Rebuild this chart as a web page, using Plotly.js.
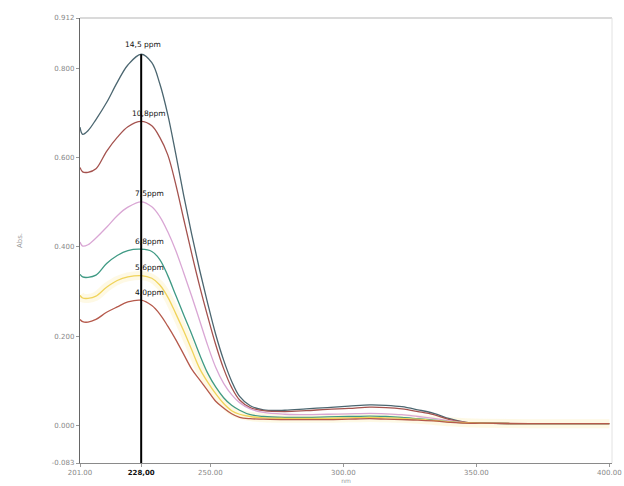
<!DOCTYPE html>
<html>
<head>
<meta charset="utf-8">
<script src="https://cdn.plot.ly/plotly-3.0.1.min.js"></script>
<style>html,body{margin:0;padding:0;background:#fff;}#chart{width:624px;height:486px;}</style>
</head>
<body>
<div id="chart"></div>
<script>
// Wavelengths (nm)
const wavelengths = [201, 202, 204, 207, 211, 215, 219, 224, 228, 231, 234, 237, 240, 243, 246, 249, 252, 255, 258, 261, 265, 270, 278, 286, 294, 302, 310, 316, 322, 328, 334, 340, 346, 352, 370, 385, 400];

// Absorbance series
const abs_14_5 = [0.668, 0.652, 0.660, 0.685, 0.723, 0.768, 0.807, 0.831, 0.812, 0.765, 0.696, 0.608, 0.515, 0.428, 0.348, 0.274, 0.205, 0.147, 0.100, 0.066, 0.045, 0.036, 0.035, 0.038, 0.041, 0.044, 0.047, 0.046, 0.043, 0.036, 0.028, 0.016, 0.008, 0.006, 0.005, 0.005, 0.005];
const abs_10_8 = [0.578, 0.568, 0.567, 0.575, 0.614, 0.645, 0.669, 0.681, 0.671, 0.645, 0.606, 0.540, 0.462, 0.385, 0.312, 0.245, 0.182, 0.128, 0.086, 0.058, 0.041, 0.034, 0.032, 0.034, 0.037, 0.039, 0.042, 0.041, 0.038, 0.032, 0.025, 0.014, 0.008, 0.006, 0.005, 0.005, 0.005];
const abs_7_5 = [0.411, 0.402, 0.405, 0.420, 0.444, 0.470, 0.489, 0.501, 0.490, 0.468, 0.434, 0.392, 0.342, 0.290, 0.235, 0.180, 0.131, 0.095, 0.070, 0.052, 0.038, 0.030, 0.026, 0.025, 0.026, 0.027, 0.028, 0.027, 0.025, 0.021, 0.017, 0.011, 0.007, 0.006, 0.005, 0.005, 0.005];
const abs_6_8 = [0.339, 0.333, 0.332, 0.337, 0.363, 0.381, 0.392, 0.395, 0.390, 0.372, 0.336, 0.292, 0.248, 0.205, 0.159, 0.118, 0.087, 0.063, 0.046, 0.035, 0.025, 0.021, 0.019, 0.019, 0.020, 0.021, 0.022, 0.021, 0.019, 0.016, 0.013, 0.009, 0.007, 0.006, 0.005, 0.005, 0.005];
const abs_5_6 = [0.292, 0.286, 0.285, 0.290, 0.310, 0.325, 0.333, 0.336, 0.330, 0.315, 0.288, 0.251, 0.212, 0.170, 0.128, 0.098, 0.072, 0.050, 0.034, 0.026, 0.021, 0.018, 0.017, 0.017, 0.017, 0.018, 0.019, 0.018, 0.017, 0.015, 0.012, 0.009, 0.007, 0.006, 0.005, 0.005, 0.005];
const abs_4_0 = [0.238, 0.233, 0.232, 0.238, 0.254, 0.266, 0.277, 0.281, 0.269, 0.250, 0.223, 0.193, 0.160, 0.127, 0.103, 0.079, 0.055, 0.040, 0.027, 0.019, 0.016, 0.015, 0.014, 0.014, 0.014, 0.015, 0.016, 0.015, 0.014, 0.013, 0.011, 0.008, 0.006, 0.006, 0.005, 0.005, 0.005];

const seriesLabels = ["14,5 ppm", "10,8ppm", "7,5ppm", "6,8ppm", "5,6ppm", "4,0ppm"];
const seriesValues = [abs_14_5, abs_10_8, abs_7_5, abs_6_8, abs_5_6, abs_4_0];
const seriesColors = ["#4b6670", "#a4524e", "#d9a6d4", "#3f9a84", "#f0d35a", "#b5594b"];

const peakWavelength = 224;
const peakLabel = "228,00";

const xTickVals = [201, peakWavelength, 250, 300, 350, 400];
const xTickText = ["201.00", "<b style='color:#111'>" + peakLabel + "</b>", "250.00", "300.00", "350.00", "400.00"];
const xRange = [201, 401];

const yTickVals = [-0.083, 0.0, 0.2, 0.4, 0.6, 0.8, 0.912];
const yTickText = ["-0.083", "0.000", "0.200", "0.400", "0.600", "0.800", "0.912"];
const yRange = [-0.083, 0.912];

const traces = [];
// soft glow under the yellow curve
traces.push({x: wavelengths, y: abs_5_6, mode: "lines", line: {color: "rgba(250,230,150,0.25)", width: 9, shape: "spline"}, hoverinfo: "skip", showlegend: false});
seriesValues.forEach((vals, i) => {
  traces.push({x: wavelengths, y: vals, mode: "lines", name: seriesLabels[i],
    line: {color: seriesColors[i], width: 1.3, shape: "spline", smoothing: 1}, showlegend: false});
});

const annotations = seriesValues.map((vals, i) => ({
  x: peakWavelength, y: Math.max(...vals), xref: "x", yref: "y",
  text: seriesLabels[i], showarrow: false, xshift: i === 0 ? 2 : 8, yshift: i === 0 ? 10 : 8,
  font: {family: "DejaVu Sans, sans-serif", size: 7.5, color: "#111"}
}));

const layout = {
  width: 624, height: 486,
  margin: {l: 80, r: 12, t: 18, b: 23},
  paper_bgcolor: "#fff", plot_bgcolor: "#fff",
  showlegend: false,
  xaxis: {
    range: xRange, tickmode: "array", tickvals: xTickVals, ticktext: xTickText,
    showgrid: false, zeroline: false, showline: true, linecolor: "#8a8a8a", linewidth: 1,
    ticks: "outside", ticklen: 3, tickcolor: "#999",
    tickfont: {family: "DejaVu Sans, sans-serif", size: 7, color: "#888"},
    title: {text: "nm", font: {family: "DejaVu Sans, sans-serif", size: 6, color: "#999"}, standoff: 2}
  },
  yaxis: {
    range: yRange, tickmode: "array", tickvals: yTickVals, ticktext: yTickText,
    showgrid: false, zeroline: false, showline: true, linecolor: "#666", linewidth: 1.2,
    ticks: "outside", ticklen: 3, tickcolor: "#999",
    tickfont: {family: "DejaVu Sans, sans-serif", size: 7, color: "#888"},
    title: {text: "Abs.", font: {family: "DejaVu Sans, sans-serif", size: 7, color: "#999"}, standoff: 28}
  },
  shapes: [
    {type: "line", xref: "paper", yref: "paper", x0: 0, x1: 1, y0: 1, y1: 1, line: {color: "#b5b5b5", width: 1}},
    {type: "line", xref: "paper", yref: "paper", x0: 1, x1: 1, y0: 0, y1: 1, line: {color: "#e2e2e2", width: 1}},
    {type: "line", xref: "x", yref: "y", x0: peakWavelength, x1: peakWavelength, y0: yRange[0], y1: Math.max(...abs_14_5), line: {color: "#000", width: 2}}
  ],
  annotations: annotations
};

Plotly.newPlot("chart", traces, layout, {staticPlot: true, displayModeBar: false});
</script>
</body>
</html>
